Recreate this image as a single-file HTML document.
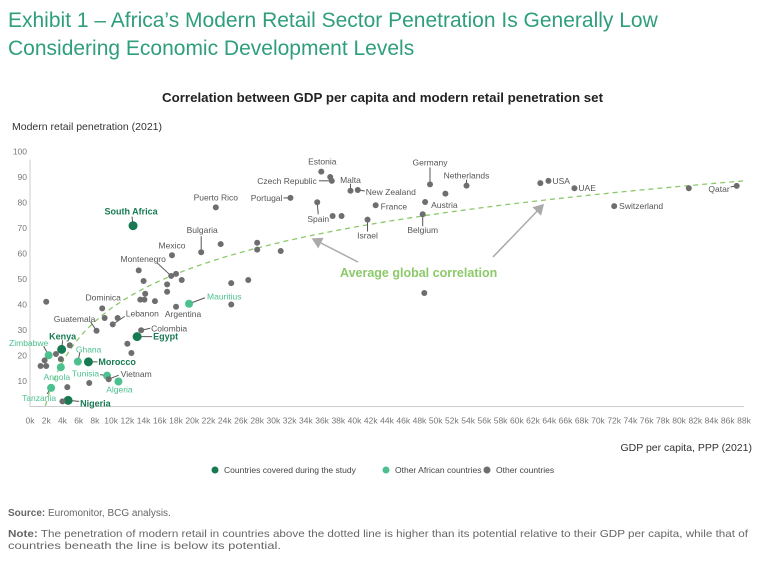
<!DOCTYPE html>
<html><head><meta charset="utf-8"><style>
body{margin:0;background:#fff;width:768px;height:563px;overflow:hidden;font-family:"Liberation Sans",sans-serif}
svg{position:absolute;left:0;top:0}
</style></head><body>
<svg width="768" height="563" xmlns="http://www.w3.org/2000/svg" font-family="Liberation Sans, sans-serif">
<text x="8" y="27" font-size="21" fill="#2f9e7c">Exhibit 1 – Africa’s Modern Retail Sector Penetration Is Generally Low</text>
<text x="8" y="55" font-size="21" fill="#2f9e7c">Considering Economic Development Levels</text>
<text x="162" y="102" font-size="12.5" font-weight="bold" fill="#222" textLength="441" lengthAdjust="spacingAndGlyphs">Correlation between GDP per capita and modern retail penetration set</text>
<text x="12" y="130" font-size="10.5" fill="#333">Modern retail penetration (2021)</text>
<text x="752" y="451" font-size="10.5" fill="#333" text-anchor="end">GDP per capita, PPP (2021)</text>
<g id="axes"></g><g id="trend"></g><g id="marks"></g>
<text x="340" y="277" font-size="12.5" font-weight="bold" fill="#8cc96a">Average global correlation</text>
<defs><marker id="ah" markerWidth="8" markerHeight="8" refX="6" refY="4" orient="auto"><path d="M0,0 L7,4 L0,8 z" fill="#aaa"/></marker></defs>
<line x1="358" y1="262" x2="313" y2="239" stroke="#aaa" stroke-width="1.5" marker-end="url(#ah)"/>
<line x1="493" y1="257" x2="543" y2="205" stroke="#aaa" stroke-width="1.5" marker-end="url(#ah)"/>
<g font-size="8.5" fill="#444">
<circle cx="215" cy="470" r="3.5" fill="#177a52"/>
<text x="224" y="473">Countries covered during the study</text>
<circle cx="386" cy="470" r="3.5" fill="#4cc08e"/>
<text x="395" y="473">Other African countries</text>
<circle cx="487" cy="470" r="3.5" fill="#6e6e6e"/>
<text x="496" y="473">Other countries</text>
</g>
<text x="8" y="516" font-size="10" fill="#666"><tspan font-weight="bold">Source:</tspan> Euromonitor, BCG analysis.</text>
<text x="8" y="537" font-size="10.5" fill="#666" textLength="740" lengthAdjust="spacingAndGlyphs"><tspan font-weight="bold">Note:</tspan> The penetration of modern retail in countries above the dotted line is higher than its potential relative to their GDP per capita, while that of</text>
<text x="8" y="549" font-size="10.5" fill="#666" textLength="273" lengthAdjust="spacingAndGlyphs">countries beneath the line is below its potential.</text>
</svg>
<script>
const countries=["South Africa","Puerto Rico","Bulgaria","","Mexico","","","Montenegro","","","","","","","","","","Argentina","Mauritius","","","","","Dominica","","","Lebanon","Guatemala","","Colombia","Egypt","","","Kenya","","","Zimbabwe","","","","","Ghana","Morocco","Angola","Tunisia","Vietnam","Algeria","","","Tanzania","Nigeria","","Estonia","","Czech Republic","Portugal","Malta","New Zealand","Spain","","","France","Israel","Germany","Netherlands","","Austria","Belgium","","","","USA","UAE","Switzerland","","Qatar"];
const gdp=[12.7,22.9,21.1,23.5,17.5,28,28,17.4,18,18.7,13.4,14,16.9,16.9,14.2,13.6,14.1,18,19.6,15.4,24.8,24.8,26.9,8.9,2,9.2,10.2,8.2,10.8,13.7,13.2,12,12.5,3.9,4.9,3.2,2.3,1.8,3.8,1.3,2,5.9,7.2,3.8,9.5,9.7,10.9,7.3,4.6,2.6,4.7,4,35.9,37,37.2,32.1,39.5,40.4,35.4,37.3,38.4,42.6,41.6,49.3,53.8,51.2,48.7,48.4,48.6,30.9,62.9,63.9,67.1,72,81.2,87.1];
const penetration=[70.9,78.1,60.5,63.7,59.3,64.2,61.5,51.2,52,49.6,53.4,49.2,47.9,45,44.2,41.9,41.9,39.1,40.3,41.3,48.4,40,49.6,38.5,41.1,34.7,32.2,29.7,34.7,29.9,27.4,24.6,21,22.4,24,20.6,20.1,18.1,18.6,15.9,15.9,17.6,17.5,15.4,12.1,10.7,9.8,9.2,7.6,7.3,2.4,2,92.1,90,88.5,81.8,84.6,84.9,80.1,74.7,74.7,78.9,73.3,87.1,86.6,83.5,80.2,75.4,44.5,61,87.6,88.5,85.6,78.6,85.6,86.5];
const groups=["c","o","o","o","o","o","o","o","o","o","o","o","o","o","o","o","o","o","a","o","o","o","o","o","o","o","o","o","o","o","c","o","o","c","o","o","a","o","o","o","o","a","c","a","a","o","a","o","o","a","c","o","o","o","o","o","o","o","o","o","o","o","o","o","o","o","o","o","o","o","o","o","o","o","o","o"];
const xTicks=[0,2,4,6,8,10,12,14,16,18,20,22,24,26,28,30,32,34,36,38,40,42,44,46,48,50,52,54,56,58,60,62,64,66,68,70,72,74,76,78,80,82,84,86,88];
const yTicks=[10,20,30,40,50,60,70,80,90,100];
const trendCoef=[-14.5,23];
const labelPos={"South Africa":[-2,-14,"middle",-1,-9],"Puerto Rico":[0,-10,"middle",null,null],"Bulgaria":[1,-22,"middle",0,-16],"Mexico":[0,-10,"middle",null,null],"Montenegro":[-28,-17,"middle",-14,-13],"Argentina":[7,7,"middle",null,null],"Mauritius":[18,-7,"start",16,-6],"Dominica":[1,-11,"middle",null,null],"Lebanon":[13,-11,"start",12,-8],"Guatemala":[-22,-12,"middle",-6,-9],"Colombia":[10,-2,"start",9,-2],"Egypt":[16,0,"start",15,0],"Kenya":[1,-13,"middle",1,-9],"Zimbabwe":[-20,-12,"middle",-5,-9],"Ghana":[-2,-12,"start",2,-9],"Morocco":[10,0,"start",9,0],"Angola":[-4,10,"middle",null,null],"Tunisia":[-8,-2,"end",-7,-1],"Vietnam":[12,-5,"start",10,-4],"Algeria":[1,8,"middle",null,null],"Tanzania":[-12,10,"middle",-4,6],"Nigeria":[12,3,"start",11,1],"Estonia":[1,-10,"middle",null,null],"Czech Republic":[-15,0,"end",-13,0],"Portugal":[-8,0,"end",-7,0],"Malta":[0,-11,"middle",0,-7],"New Zealand":[8,2,"start",7,1],"Spain":[1,17,"middle",1,12],"France":[5,1,"start",null,null],"Israel":[0,16,"middle",0,12],"Germany":[0,-22,"middle",0,-17],"Netherlands":[0,-10,"middle",0,-6],"Austria":[6,3,"start",null,null],"Belgium":[0,16,"middle",0,12],"USA":[4,0,"start",null,null],"UAE":[4,0,"start",null,null],"Switzerland":[5,0,"start",null,null],"Qatar":[-7,3,"end",-6,1]};
const X0=30,X1=744,XMAX=88,Y0=406.5,Y100=151.5;
const xs=v=>X0+v/XMAX*(X1-X0), ys=v=>Y0-v/100*(Y0-Y100);
const NS="http://www.w3.org/2000/svg";
function mk(t,a,p){const e=document.createElementNS(NS,t);for(const k in a)e.setAttribute(k,a[k]);p.appendChild(e);return e;}
const axes=document.getElementById('axes');
const xl=mk('line',{x1:X0,y1:Y0,x2:X1,y2:Y0,stroke:'#ccc'},axes);


const yl=mk('line',{x1:X0,y1:Y0,x2:X0,y2:ys(100)+8,stroke:'#ccc'},axes);


xTicks.forEach(t=>{const e=mk('text',{x:xs(t),y:Y0+17,'font-size':8.5,fill:'#777','text-anchor':'middle'},axes);e.textContent=t+'k';

});
yTicks.forEach(t=>{const e=mk('text',{x:X0-3,y:ys(t)+3,'font-size':8.5,fill:'#777','text-anchor':'end'},axes);e.textContent=t;

});
let d='';for(let g=1.9;g<=88;g+=0.5){const v=trendCoef[0]+trendCoef[1]*Math.log(g);if(v<0)continue;d+=(d?'L':'M')+xs(g).toFixed(1)+','+ys(v).toFixed(1);}
const tr=mk('path',{d:d,fill:'none',stroke:'#8cc96a','stroke-width':1.3,'stroke-dasharray':'5,4'},document.getElementById('trend'));


const col={c:'#177a52',a:'#4cc08e',o:'#6e6e6e'};
const marks=document.getElementById('marks');
gdp.forEach((g,i)=>{const px=xs(g),py=ys(penetration[i]),grp=groups[i],n=countries[i];
const lp=labelPos[n];
if(n&&lp){if(lp[3]!==null){const l=mk('line',{x1:px,y1:py,x2:px+lp[3],y2:py+lp[4],stroke:'#555','stroke-width':1},marks);

}
const t=mk('text',{x:px+lp[0],y:py+lp[1]+3,'font-size':grp==='c'?9:8.5,'font-weight':grp==='c'?'bold':'normal',fill:grp==='o'?'#555':col[grp],'text-anchor':lp[2]},marks);t.textContent=n;

}
const r=grp==='o'?3:(grp==='c'?4.5:4);
const c=mk('circle',{cx:px,cy:py,r:r,fill:col[grp]},marks);

});
</script>
</body></html>
